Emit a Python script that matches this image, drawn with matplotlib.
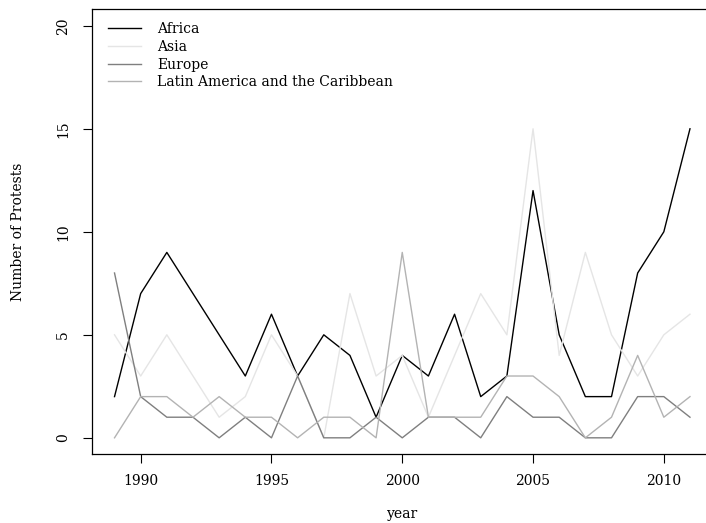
import numpy as np
import matplotlib
matplotlib.use("Agg")
import matplotlib.pyplot as plt

plt.rcParams['font.family'] = ['DejaVu Serif']

years = list(range(1989, 2012))
africa = [2, 7, 9, 7, 5, 3, 6, 3, 5, 4, 1, 4, 3, 6, 2, 3, 12, 5, 2, 2, 8, 10, 15]
asia = [5, 3, 5, 3, 1, 2, 5, 3, 0, 7, 3, 4, 1, 4, 7, 5, 15, 4, 9, 5, 3, 5, 6]
europe = [8, 2, 1, 1, 0, 1, 0, 3, 0, 0, 1, 0, 1, 1, 0, 2, 1, 1, 0, 0, 2, 2, 1]
latam = [0, 2, 2, 1, 2, 1, 1, 0, 1, 1, 0, 9, 1, 1, 1, 3, 3, 2, 0, 1, 4, 1, 2]

regions = ["Africa", "Asia", "Europe", "Latin America and the Caribbean"]
colors = ["#000000", "#e5e5e5", "#7f7f7f", "#b3b3b3"]

W, H = 706, 523
fig = plt.figure(figsize=(W / 100, H / 100), dpi=100)
# plot box runs off the right edge like the original
ax = fig.add_axes([91.5 / W, (H - 454.3) / H, (713 - 91.5) / W, (454.3 - 9.3) / H])

for vals, name, c in zip([africa, asia, europe, latam], regions, colors):
    ax.plot(years, vals, color=c, lw=1.0, label=name)

ax.set_xlim(1988.12, 2011.88)
ax.set_ylim(-0.8, 20.8)
ax.set_xticks([1990, 1995, 2000, 2005, 2010])
ax.set_yticks([0, 5, 10, 15, 20])
ax.tick_params(direction='out', length=6.5, width=0.8, labelsize=10)
ax.tick_params(axis='x', pad=7.5)
ax.tick_params(axis='y', pad=9)
plt.setp(ax.get_yticklabels(), rotation=90, va='center')
for s in ax.spines.values():
    s.set_linewidth(0.9)

ax.set_xlabel("year", fontsize=10, labelpad=14)
ax.set_ylabel("Number of Protests", fontsize=10, labelpad=22)

ax.legend(loc='upper left', bbox_to_anchor=(0.013, 0.99), frameon=False,
          fontsize=10, handlelength=2.4, handletextpad=1.15, labelspacing=0.27,
          borderaxespad=0.2)

fig.savefig("out.png", dpi=100)
